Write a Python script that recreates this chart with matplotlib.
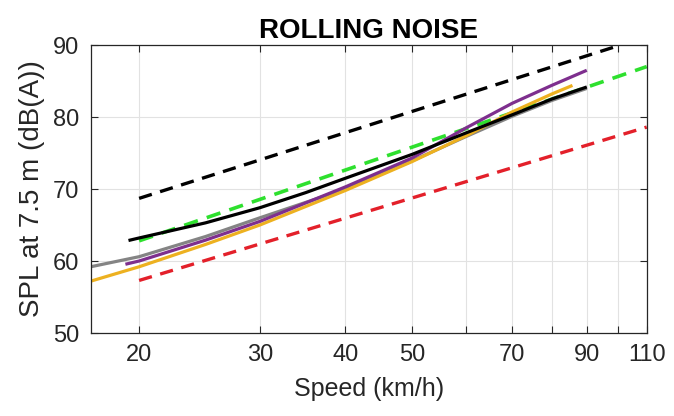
import numpy as np
import matplotlib
matplotlib.use('Agg')
import matplotlib.pyplot as plt
from matplotlib.ticker import FixedLocator, FixedFormatter, NullLocator

plt.rcParams['font.family'] = ['Liberation Sans', 'DejaVu Sans']

# measured curves (speed km/h, SPL dB(A))
black_v = [19.4, 20, 25, 30, 35, 40, 50, 60, 70, 80, 89.5]
black_L = [62.9, 63.2, 65.3, 67.4, 69.5, 71.5, 74.8, 77.8, 80.3, 82.5, 84.1]

gray_v = [17, 20, 25, 30, 40, 50, 60, 70, 80, 89.5]
gray_L = [59.2, 60.6, 63.4, 66.0, 70.0, 73.9, 77.3, 80.1, 82.3, 83.9]

purple_v = [19.2, 20, 25, 30, 40, 50, 60, 70, 80, 89.5]
purple_L = [59.6, 60.0, 62.9, 65.5, 70.3, 74.3, 78.5, 81.9, 84.4, 86.4]

orange_v = [17, 20, 25, 30, 40, 50, 60, 70, 80, 85.3]
orange_L = [57.2, 59.2, 62.3, 65.0, 69.8, 73.8, 77.4, 80.7, 83.2, 84.3]

# dashed reference lines
blackd_v = [20, 100]
blackd_L = [68.7, 89.9]
greend_v = [20, 110]
greend_L = [62.8, 87.0]
redd_v = [20, 110]
redd_L = [57.3, 78.6]

xticks = [20, 30, 40, 50, 60, 70, 80, 90, 100, 110]
xlabels = ['20', '30', '40', '50', '', '70', '', '90', '', '110']
yticks = [50, 60, 70, 80, 90]

fig = plt.figure(figsize=(6.74, 4.16), dpi=100)
ax = fig.add_axes([0.1346, 0.1995, 0.8249, 0.6923])

dash = (4, 2.6)
ax.plot(blackd_v, blackd_L, color='black', lw=2.4, dashes=dash)
ax.plot(greend_v, greend_L, color='#2ee02e', lw=2.6, dashes=dash)
ax.plot(redd_v, redd_L, color='#e3202a', lw=2.4, dashes=dash)

ax.plot(gray_v, gray_L, color='#848484', lw=2.3)
ax.plot(orange_v, orange_L, color='#edb120', lw=2.3)
ax.plot(purple_v, purple_L, color='#7e2f8e', lw=2.3)
ax.plot(black_v, black_L, color='black', lw=2.3)

ax.set_xscale('log')
ax.set_xlim(17, 110)
ax.set_ylim(50, 90)
ax.xaxis.set_major_locator(FixedLocator(xticks))
ax.xaxis.set_major_formatter(FixedFormatter(xlabels))
ax.xaxis.set_minor_locator(NullLocator())
ax.set_yticks(yticks)

ax.grid(True, color='#e2e2e2', lw=0.8)
ax.set_axisbelow(True)
ax.tick_params(direction='in', top=True, right=True, length=5, width=0.8,
               labelsize=17, colors='#262626', pad=8)
for s in ax.spines.values():
    s.set_color('#262626')
    s.set_linewidth(0.9)

ax.set_xlabel('Speed (km/h)', fontsize=18, color='#262626', labelpad=8)
ax.set_ylabel('SPL at 7.5 m (dB(A))', fontsize=20, color='#262626', labelpad=6)
ax.set_title('ROLLING NOISE', fontsize=20, fontweight='bold', pad=5)

fig.savefig('out.png', dpi=100)
